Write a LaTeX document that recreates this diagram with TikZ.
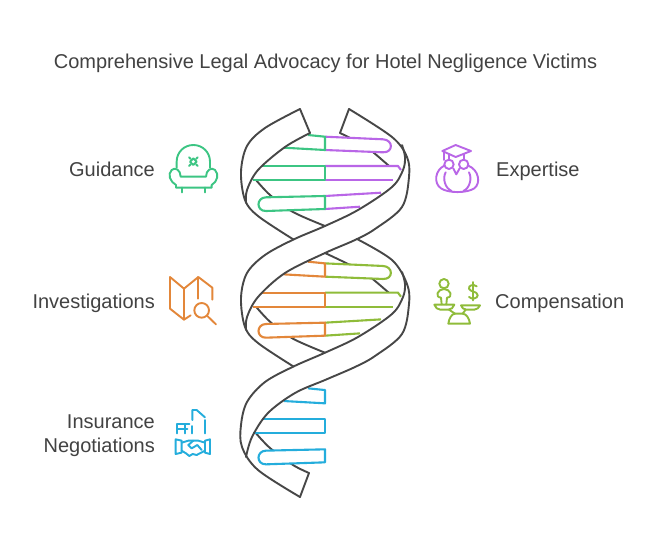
\documentclass[tikz,border=0pt]{standalone}
\usepackage{fontspec}
\setmainfont{Liberation Sans}
\definecolor{ink}{HTML}{474747}
\definecolor{txt}{HTML}{424242}
\definecolor{cgreen}{HTML}{3CC583}
\definecolor{cpurple}{HTML}{B966E7}
\definecolor{corange}{HTML}{E3873A}
\definecolor{colive}{HTML}{8FBC3A}
\definecolor{cblue}{HTML}{24ADDC}
\tikzset{
  strand/.style={draw=ink,line width=1.9pt,line join=round,line cap=round},
  rung/.style={line width=2.1pt,line join=round},
  icon/.style={line width=1.9pt,line join=round,line cap=round},
  lab/.style={text=txt,font=\fontsize{20}{24}\selectfont,inner sep=0pt},
}
\newcommand{\leftrungs}[1]{%
  \fill[white] (308,135) -- (325,136.7) -- (325,150) -- (284,147.7) -- cycle;
  \draw[rung,#1] (308,135) -- (325,136.7) -- (325,150) -- (284,147.7);
  \fill[white] (262,166) -- (325,166) -- (325,180) -- (253,180) -- cycle;
  \draw[rung,#1] (262,166) -- (325,166) -- (325,180) -- (253,180);
  \fill[white] (325,196) -- (266,197.3) .. controls (256,197.6) and (256,211.2) .. (266,211) -- (325,209) -- cycle;
  \draw[rung,#1] (325,196) -- (266,197.3) .. controls (256,197.6) and (256,211.2) .. (266,211) -- (325,209) -- cycle;
}
\newcommand{\rightrungs}[1]{%
  \fill[white] (325,136.7) -- (383,139.3) .. controls (393.5,139.8) and (393.5,152.8) .. (383,152.3) -- (325,150) -- cycle;
  \draw[rung,#1] (325,136.7) -- (383,139.3) .. controls (393.5,139.8) and (393.5,152.8) .. (383,152.3) -- (325,150);
  \fill[white] (325,166) -- (398,166) -- (402,171) -- (393,180) -- (325,180) -- cycle;
  \draw[rung,#1] (325,166) -- (398,166) -- (401,170);
  \draw[rung,#1] (325,180) -- (393,180);
  \fill[white] (325,196) -- (381,192.7) -- (360,207) -- (325,209) -- cycle;
  \draw[rung,#1] (325,196) -- (381,192.7);
  \draw[rung,#1] (325,209) -- (360,206.7);
}
\begin{document}
\begin{tikzpicture}[x=1pt,y=-1pt]
\useasboundingbox (0,0) rectangle (662,547);
\fill[white] (0,0) rectangle (662,547);

% back strands
\draw[strand] plot[smooth,tension=0.5] coordinates {(340,133)(365,146)(388,165)(396,172)};
\draw[strand] plot[smooth,tension=0.5] coordinates {(256,180)(270,195)(293,212)(325,226)};
\draw[strand] plot[smooth,tension=0.5] coordinates {(325,253)(345,262.5)(365,273)(388,292)(396,299)};
\draw[strand] plot[smooth,tension=0.5] coordinates {(256,306.7)(270,321.7)(293,338.7)(325,352.7)};
\draw[strand] plot[smooth,tension=0.5] coordinates {(256,433.3)(270,448)(293,465)(309,473)};

% rungs
\rightrungs{cpurple}
\leftrungs{cgreen}
\begin{scope}[yshift=-126.67pt]
\rightrungs{colive}
\leftrungs{corange}
\end{scope}
\begin{scope}[yshift=-253.33pt]
\leftrungs{cblue}
\end{scope}

% front strands
\draw[strand] (309,473) -- (300,497);
\draw[strand] (310,133) -- (300,109);
\draw[strand] (340,133) -- (349,109);
\draw[strand] plot[smooth,tension=0.55] coordinates {(300,109)(265,128)(247,146)(241,172)(245,200)(258,216)(293.5,239.5)};
\draw[strand] plot[smooth,tension=0.55] coordinates {(310,133)(285,147)(258,170)(247,190)(246,203)};
\draw[strand] plot[smooth,tension=0.55] coordinates {(349,109)(392,137)(407,157)(409,177)(402,207)(375,229)(355,240)(325,253)(285,273)(258,297)(247,317)(246,330)};
\draw[strand] plot[smooth,tension=0.55] coordinates {(402,145)(405,157)(403,170)(392,187)(358,210)(325,226)(293.5,239.5)(265,255)(247,273)(241,298)(245,327)(258,343)(293.5,366.5)};
\draw[strand] plot[smooth,tension=0.55] coordinates {(357,239)(392,260)(407,284)(409,304)(402,334)(375,356)(355,367)(325,380)(295,393)(268,413)(252,437)(246,457)};
\draw[strand] plot[smooth,tension=0.55] coordinates {(402,272)(405,284)(403,297)(392,314)(358,337)(325,352.7)(293.5,366.5)(265,382)(247,402)(241,425)(242,447)(258,470)(300,497)};

% labels
\node[lab,anchor=base] (title) at (325.5,68) {Comprehensive Legal Advocacy for Hotel Negligence Victims};
\node[lab,anchor=base east] (guidance) at (155,176) {Guidance};
\node[lab,anchor=base west] (expertise) at (496,176) {Expertise};
\node[lab,anchor=base east] (investigations) at (155,308) {Investigations};
\node[lab,anchor=base west] (compensation) at (495,308) {Compensation};
\node[lab,anchor=base east] (insurance) at (155,428) {Insurance};
\node[lab,anchor=base east] (negotiations) at (155,452) {Negotiations};

% armchair
\begin{scope}[shift={(160pt,-135pt)},x=0.3333pt,y=-0.3333pt,icon,draw=cgreen]
\draw (50,98) -- (50,80) .. controls (50,52) and (72,30) .. (100,30) .. controls (128,30) and (150,52) .. (150,80) -- (150,98);
\draw (62,125) .. controls (62,105) and (45,95) .. (35,105) .. controls (22,118) and (30,140) .. (48,150) -- (48,158) -- (155,158) -- (155,150) .. controls (172,140) and (178,118) .. (165,105) .. controls (155,95) and (138,105) .. (138,125) -- cycle;
\draw (65,158) -- (65,172) (135,158) -- (135,172);
\draw (100,70) -- (110,80) -- (100,90) -- (90,80) -- cycle;
\draw (87,67) -- (92,72) (113,67) -- (108,72) (87,93) -- (92,88) (113,93) -- (108,88);
\end{scope}

% owl
\begin{scope}[shift={(425pt,-135pt)},x=0.3333pt,y=-0.3333pt,icon,draw=cpurple]
\draw (52,48) -- (92,30) -- (138,48) -- (92,66) -- cycle;
\draw (72,58) -- (72,72) (118,58) -- (118,72);
\draw (56,50) -- (56,75);
\draw (72,88) circle (14) (116,88) circle (14);
\draw (85,100) -- (94,118) -- (104,100);
\draw (58,92) .. controls (30,105) and (25,145) .. (48,160) .. controls (70,175) and (125,175) .. (148,160) .. controls (168,145) and (162,105) .. (130,92);
\draw (62,112) .. controls (52,130) and (60,160) .. (80,168);
\draw (132,112) .. controls (142,130) and (134,160) .. (115,168);
\end{scope}

% map
\begin{scope}[shift={(160pt,-267pt)},x=0.3333pt,y=-0.3333pt,icon,draw=corange]
\draw (92,145) -- (72,158) -- (30,125) -- (30,30) -- (72,65) -- (115,30) -- (157,62) -- (157,98);
\draw (72,65) -- (72,158) (115,30) -- (115,95);
\draw (125,130) circle (22);
\draw (142,147) -- (168,172);
\end{scope}

% scale
\begin{scope}[shift={(425pt,-267pt)},x=0.3333pt,y=-0.3333pt,icon,draw=colive]
\draw (57,50) circle (14);
\draw (50,112) -- (48,92) .. controls (28,90) and (38,66) .. (57,66) .. controls (76,66) and (86,90) .. (66,92) -- (64,112);
\draw (28,113) -- (88,113) .. controls (85,122) and (78,128) .. (70,128) -- (46,128) .. controls (38,128) and (31,122) .. (28,113);
\draw (108,115) -- (165,115) .. controls (162,122) and (156,128) .. (148,128) -- (124,128) .. controls (116,128) and (110,122) .. (108,115);
\draw (72,128) -- (90,140) (122,128) -- (113,140);
\draw (70,170) .. controls (72,155) and (80,140) .. (90,140) -- (113,140) .. controls (124,140) and (133,155) .. (135,170) -- cycle;
\draw (145,45) -- (145,100);
\draw (155,58) .. controls (145,50) and (130,55) .. (132,65) .. controls (134,75) and (158,72) .. (158,85) .. controls (158,95) and (140,98) .. (132,90);
\end{scope}

% handshake
\begin{scope}[shift={(160pt,-400pt)},x=0.3333pt,y=-0.3333pt,icon,draw=cblue]
\draw (97,60) -- (97,30) -- (110,30) -- (135,52);
\draw (135,60) -- (135,100);
\draw (97,78) -- (97,100);
\draw (52,100) -- (52,72) -- (88,72) (52,88) -- (82,88) (75,72) -- (75,100);
\draw (47,118) -- (65,122) -- (65,158) -- (47,162) -- cycle;
\draw (150,118) -- (135,122) -- (135,158) -- (150,162) -- cycle;
\draw (65,128) -- (85,122) -- (115,122) -- (135,128);
\draw (65,152) -- (78,160) -- (88,168) -- (98,162) -- (110,165) -- (135,152);
\draw (100,122) -- (85,135) -- (95,145) -- (112,135) -- (125,150);
\end{scope}
\end{tikzpicture}
\end{document}
